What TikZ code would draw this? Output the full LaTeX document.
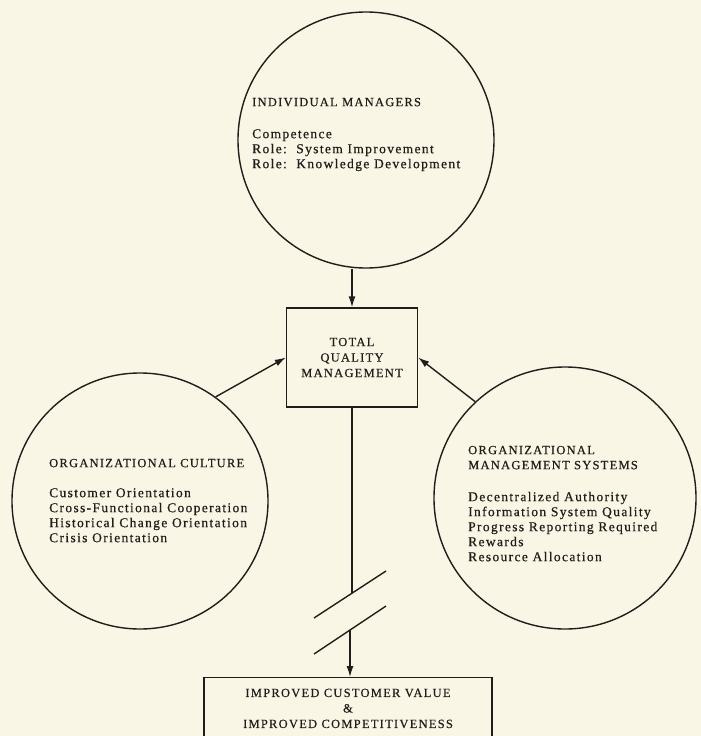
\documentclass[tikz,border=0pt]{standalone}
\usepackage{fontspec}
\setmainfont{Liberation Serif}[LetterSpace=10,FakeBold=0.5]
\usetikzlibrary{arrows.meta}
\definecolor{paper}{RGB}{250,246,229}
\definecolor{ink}{RGB}{32,30,27}
\newcommand{\hdfont}{\fontsize{12.5}{15}\selectfont}
\newcommand{\bdfont}{\fontsize{13.5}{15}\selectfont}
\tikzset{
  lin/.style={draw=ink, line width=1.4pt},
  arr/.style={lin, -{Latex[length=11pt,width=7pt]}},
  bubble/.style={circle, lin, minimum size=256pt, inner sep=0pt},
  txt/.style={anchor=north west, inner sep=0pt, align=left, text=ink, font=\hdfont},
  boxnode/.style={rectangle, lin, align=center, text=ink, inner sep=0pt,
    font=\fontsize{12.5}{15.5}\selectfont}
}
\begin{document}
\begin{tikzpicture}[x=1pt,y=-1pt]
\fill[paper] (0,0) rectangle (701,736);
\useasboundingbox (0,0) rectangle (701,736);

\node[bubble] (im) at (366,140) {};
\node[bubble] (oc) at (140,501) {};
\node[bubble, minimum size=262pt] (oms) at (565,498) {};

\node[txt] (imt) at (252,97.7) {INDIVIDUAL MANAGERS\\[17pt]\bdfont Competence\\\bdfont Role:\ \ System Improvement\\\bdfont Role:\ \ Knowledge Development};
\node[txt] (oct) at (49,458.7) {ORGANIZATIONAL CULTURE\\[15pt]\bdfont Customer Orientation\\\bdfont Cross-Functional Cooperation\\\bdfont Historical Change Orientation\\\bdfont Crisis Orientation};
\node[txt] (omst) at (468,445.7) {ORGANIZATIONAL\\MANAGEMENT SYSTEMS\\[17pt]\bdfont Decentralized Authority\\\bdfont Information System Quality\\\bdfont Progress Reporting Required\\\bdfont Rewards\\\bdfont Resource Allocation};

\node[boxnode, minimum width=131pt, minimum height=99pt] (tqm) at (352,357.5) {TOTAL\\QUALITY\\MANAGEMENT};

\node[boxnode, minimum width=288pt, anchor=north, inner ysep=11pt] (out) at (348,677) {IMPROVED CUSTOMER VALUE\\\&\\IMPROVED COMPETITIVENESS};

\draw[arr] (tqm.north |- im.south) -- (tqm.north);
\draw[arr] (oc.54) -- (tqm.west);
\draw[arr] (oms.133) -- (tqm.east);

\coordinate (brkA) at (350,593);
\coordinate (brkB) at (350,630);
\coordinate (s1a) at (314,618);
\coordinate (s1b) at (386,571);
\coordinate (s2a) at (314,654);
\coordinate (s2b) at (386,606);
\draw[lin] (tqm.south) -- (tqm.south |- brkA);
\draw[lin] (s1a) -- (s1b);
\draw[lin] (s2a) -- (s2b);
\draw[arr] (brkB) -- (brkB |- out.north);
\end{tikzpicture}
\end{document}
